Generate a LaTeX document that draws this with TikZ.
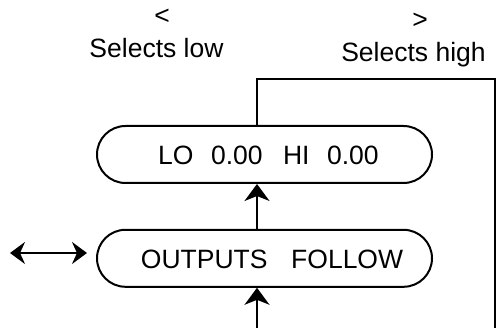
\documentclass[tikz,border=0pt]{standalone}
\usepackage{fontspec}
\setmainfont{Liberation Sans}
\usetikzlibrary{arrows.meta,shapes.misc}
\begin{document}
\begin{tikzpicture}[x=1pt,y=-1pt,
  box/.style={draw, line width=2pt, rounded rectangle, minimum width=335pt,
    minimum height=57pt, inner sep=0pt},
  wire/.style={line width=2pt},
  tip/.style={-{Stealth[length=17pt,width=25pt,inset=5pt]}},
  lbl/.style={font=\fontsize{26.5}{31}\selectfont, inner sep=0pt}]
\useasboundingbox (0,0) rectangle (498,328);

% mode boxes
\node[box] (range) at (264.5,154.5) {};
\node[box] (follow) at (264.5,258.3) {};

% texts
\node[lbl, anchor=base west] (rangetxt) at (158,165)
  {LO\hspace{17.6pt}0.00\hspace{20.4pt}HI\hspace{17.5pt}0.00};
\node[lbl, anchor=base west] (followtxt) at (140.7,269)
  {OUTPUTS\hspace{23.7pt}FOLLOW};
\node[lbl, anchor=base] (lt) at (162,25) {<};
\node[lbl, anchor=base] (lowtxt) at (156.5,58) {Selects low};
\node[lbl, anchor=base] (gt) at (420,29) {>};
\node[lbl, anchor=base] (hightxt) at (413.5,62) {Selects high};

% helper points
\coordinate (axis) at (257,0);
\coordinate (corner) at (495,79);
\coordinate (rend) at (495,328);
\coordinate (feed) at (257,328);
\coordinate (dl) at (10,253);
\coordinate (dr) at (87,253);

% connectors
\draw[wire] (range.north -| axis) -- (axis |- corner) -- (corner) -- (rend);
\draw[wire, tip] (follow.north -| axis) -- (range.south -| axis);
\draw[wire, tip] (feed) -- (follow.south -| axis);
\draw[wire, {Stealth[length=15pt,width=22pt,inset=5pt]}-{Stealth[length=15pt,width=22pt,inset=5pt]}] (dl) -- (dr);
\end{tikzpicture}
\end{document}
